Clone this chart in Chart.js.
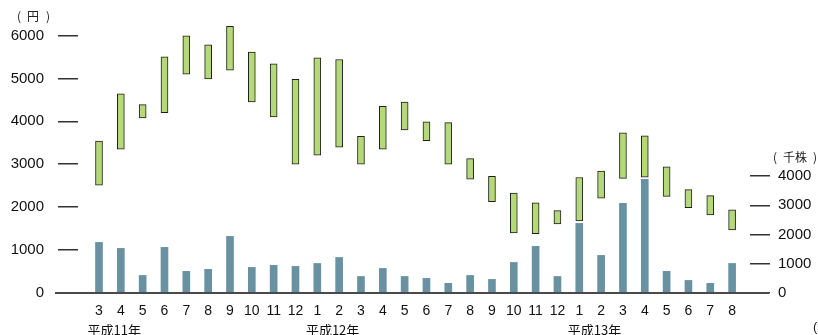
<!DOCTYPE html>
<html>
<head>
<meta charset="utf-8">
<script src="https://cdn.jsdelivr.net/npm/chart.js@4/dist/chart.umd.min.js"></script>
<style>
  html, body { margin: 0; padding: 0; background: #fff; }
  #wrap { width: 818px; height: 335px; }
</style>
</head>
<body>
<div id="wrap"><canvas id="stockChart" width="818" height="335"></canvas></div>
<script>
// months from 平成11年3月 to 平成13年8月
const months = ['3','4','5','6','7','8','9','10','11','12',
  '1','2','3','4','5','6','7','8','9','10','11','12',
  '1','2','3','4','5','6','7','8'];
const years = ['平成11年', '平成12年', '平成13年'];

// 株価 (円): 高値 / 安値
const priceHigh = [3540, 4640, 4390, 5500, 5990, 5780, 6210, 5610, 5340, 4980,
  5480, 5440, 3650, 4350, 4450, 3990, 3970, 3130, 2720, 2330, 2100, 1920,
  2690, 2840, 3730, 3660, 2940, 2410, 2270, 1940];
const priceLow = [2510, 3350, 4080, 4200, 5100, 4990, 5190, 4450, 4100, 3000,
  3210, 3400, 3000, 3350, 3800, 3550, 3000, 2650, 2130, 1400, 1380, 1610,
  1680, 2210, 2670, 2700, 2250, 1990, 1820, 1470];

// 出来高 (千株)
const volume = [1730, 1525, 600, 1560, 740, 810, 1935, 875, 945, 910,
  1010, 1215, 565, 840, 565, 500, 330, 600, 465, 1045, 1595, 565,
  2380, 1285, 3065, 3885, 740, 430, 330, 1010];

const priceTicks = [0, 1000, 2000, 3000, 4000, 5000, 6000];
const volumeTicks = [0, 1000, 2000, 3000, 4000];

// year label sits between first and second month of each year
const yearPos = [0];
months.forEach((m, i) => { if (m === '1') yearPos.push(i); });

const FONT = "'Liberation Sans', Arial, sans-serif";
const CJK = "'Noto Sans CJK JP', sans-serif";

const extras = {
  id: 'extras',
  afterDraw(chart) {
    const c = chart.ctx;
    const a = chart.chartArea;
    c.save();
    // baseline runs past the plot area on both sides
    c.strokeStyle = '#4a4a4a';
    c.lineWidth = 2;
    c.beginPath();
    c.moveTo(55, a.bottom);
    c.lineTo(769, a.bottom);
    c.stroke();
    // unit labels
    c.fillStyle = '#222';
    c.font = '12px ' + CJK;
    c.textAlign = 'left';
    c.textBaseline = 'middle';
    c.fillText('(', 17, 16);
    c.fillText('円', 27, 16);
    c.fillText(')', 46, 16);
    c.fillText('(', 773, 157);
    c.fillText('千株', 783, 157);
    c.fillText(')', 813, 157);
    c.font = '13px ' + FONT;
    c.fillText('(', 813, 327);
    c.restore();
  }
};

// y axes: drop the label overhang padding so the plot top follows layout.padding
const noPad = s => { s.paddingTop = 0; s.paddingBottom = 0; };

const ctx = document.getElementById('stockChart').getContext('2d');
const chart = new Chart(ctx, {
  type: 'bar',
  data: {
    datasets: [
      {
        label: '株価',
        data: months.map((m, i) => ({ x: i, y: [priceLow[i], priceHigh[i]] })),
        yAxisID: 'y',
        backgroundColor: '#b5d878',
        borderColor: '#1e1e1e',
        borderWidth: 1,
        borderSkipped: false,
        barThickness: 7,
        grouped: false,
        order: 1
      },
      {
        label: '出来高',
        data: months.map((m, i) => ({ x: i, y: volume[i] })),
        yAxisID: 'y1',
        backgroundColor: '#6891a2',
        borderWidth: 0,
        barThickness: 7,
        grouped: false,
        order: 2
      }
    ]
  },
  options: {
    responsive: false,
    animation: false,
    devicePixelRatio: 1,
    layout: { padding: { top: 14, left: 0, right: 0, bottom: 0 } },
    plugins: { legend: { display: false }, tooltip: { enabled: false } },
    scales: {
      x: {
        type: 'linear',
        position: 'bottom',
        min: -0.962,
        max: 29.82,
        offset: false,
        grid: { display: false, drawTicks: false },
        border: { display: false },
        afterBuildTicks: s => { s.ticks = months.map((m, i) => ({ value: i })); },
        afterFit: s => { s.height = 27; },
        ticks: {
          autoSkip: false,
          maxRotation: 0,
          padding: 11,
          color: '#111',
          font: { family: FONT, size: 14, lineHeight: 1 },
          callback: v => months[v]
        }
      },
      x2: {
        type: 'linear',
        position: 'bottom',
        min: -0.962,
        max: 29.82,
        offset: false,
        grid: { display: false, drawTicks: false },
        border: { display: false },
        afterBuildTicks: s => { s.ticks = yearPos.map(p => ({ value: p + 0.7 })); },
        afterFit: s => { s.height = 15; },
        ticks: {
          autoSkip: false,
          maxRotation: 0,
          padding: 4,
          color: '#111',
          font: { family: CJK, size: 13, lineHeight: 1 },
          callback: (v, i) => years[i]
        }
      },
      y: {
        position: 'left',
        min: 0,
        max: 6500,
        afterBuildTicks: s => { s.ticks = priceTicks.map(v => ({ value: v })); },
        afterFit: s => { s.width = 78; noPad(s); },
        grid: { drawOnChartArea: false, drawTicks: true, tickLength: 20, color: '#333', lineWidth: 1.5 },
        border: { display: false },
        ticks: {
          padding: 14,
          color: '#111',
          font: { family: FONT, size: 15 },
          callback: v => String(v)
        }
      },
      y1: {
        position: 'right',
        min: 0,
        max: 9540,
        afterBuildTicks: s => { s.ticks = volumeTicks.map(v => ({ value: v })); },
        afterFit: s => { s.width = 68; noPad(s); },
        grid: { drawOnChartArea: false, drawTicks: true, tickLength: 20, color: '#333', lineWidth: 1.5 },
        border: { display: false },
        ticks: {
          padding: 8,
          color: '#111',
          font: { family: FONT, size: 15 },
          callback: v => String(v)
        }
      }
    }
  },
  plugins: [extras]
});
</script>
</body>
</html>
